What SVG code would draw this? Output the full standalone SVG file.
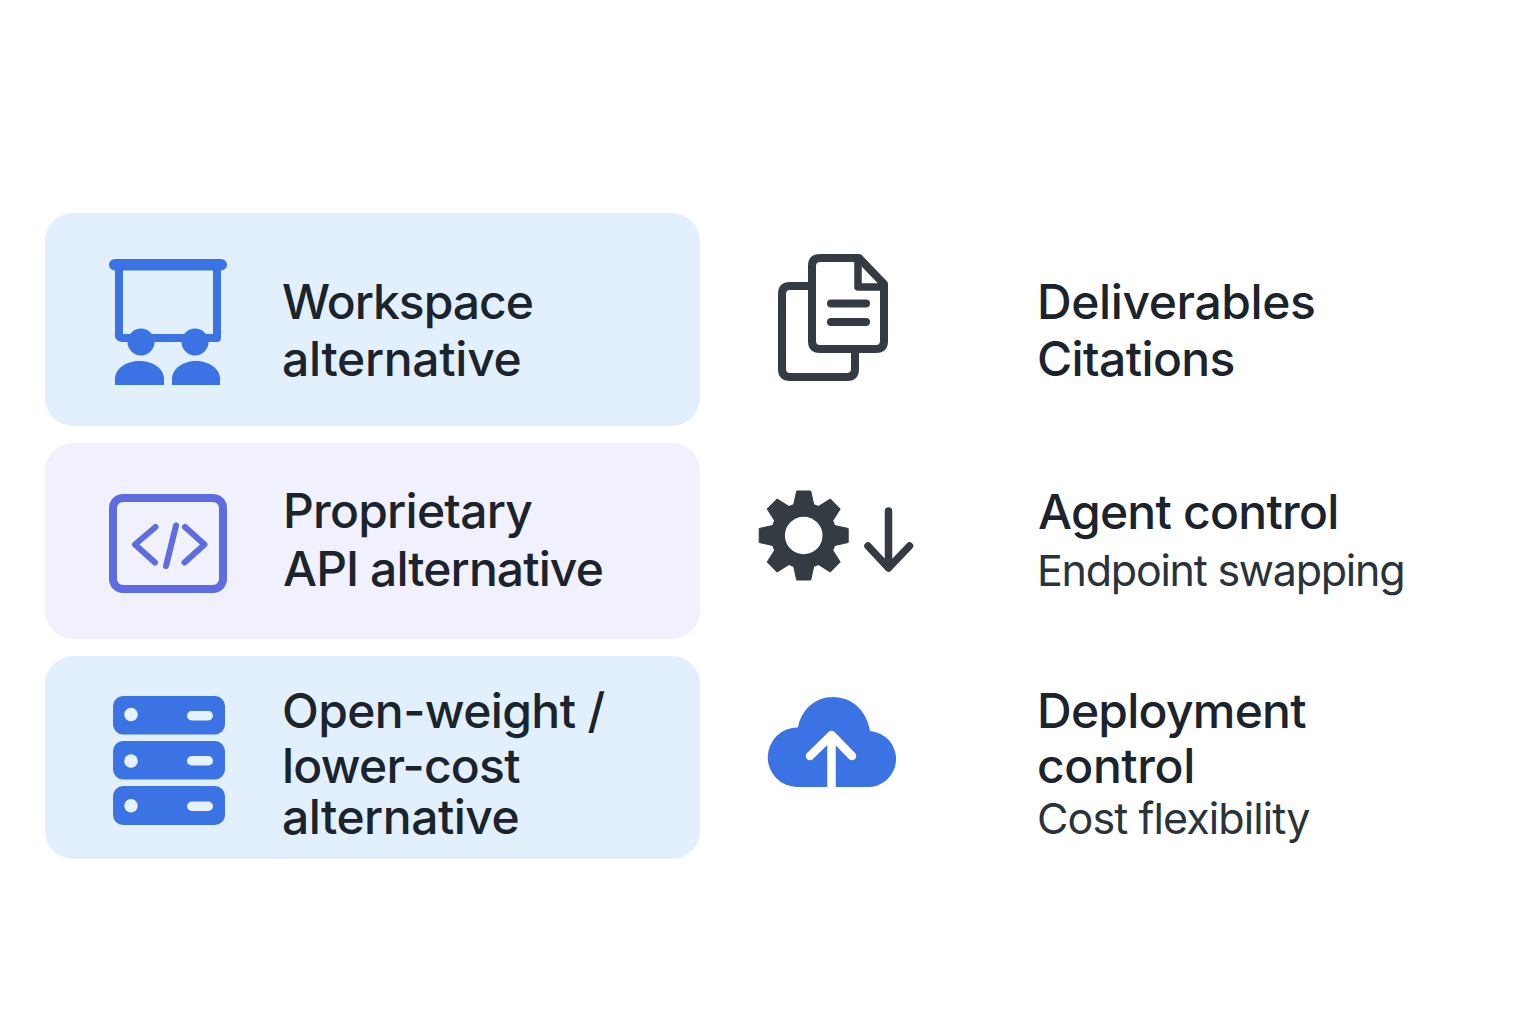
<svg xmlns="http://www.w3.org/2000/svg" width="1536" height="1024" viewBox="0 0 1536 1024">
<style>
.t{font-family:Inter,"Liberation Sans",sans-serif;font-size:48px;font-weight:500;fill:#1b232c;letter-spacing:-.75px}
.s{font-family:Inter,"Liberation Sans",sans-serif;font-size:43px;font-weight:400;fill:#2a333c}
.blue{fill:#3b72e4}
.line{fill:none;stroke-linecap:round;stroke-linejoin:round}
.dk{stroke:#343b43}
</style>
<defs><polygon id="tooth" points="-10,-31 -7,-44.500 7,-44.500 10,-31" fill="#343b43" stroke="#343b43" stroke-width="1" stroke-linejoin="round"/></defs>
<rect width="1536" height="1024" fill="#fff"/>
<g id="card-workspace">
<rect x="45" y="213" width="655" height="213" rx="28" fill="#e2f0fd"/>
<g id="icon-workspace">
<path d="M119 268V334a3 3 0 0 0 3 4H217V268" class="line" stroke="#3b72e4" stroke-width="8"/>
<rect x="109" y="259" width="118" height="11.500" rx="5.700" class="blue"/>
<circle cx="141" cy="342" r="13.500" class="blue"/><circle cx="195" cy="342" r="13.500" class="blue"/>
<path d="M115 385V379C115 368 127 361 139.500 361S164 368 164 379V385Z" class="blue"/>
<path d="M172 385V379C172 368 184 361 196 361S220 368 220 379V385Z" class="blue"/>
</g>
<text class="t" x="282" y="319" style="letter-spacing:-1px">Workspace</text><text class="t" x="282" y="376" style="letter-spacing:-.3px">alternative</text>
</g>
<g id="card-api">
<rect x="45" y="443" width="655" height="196" rx="28" fill="#f1f0fd"/>
<g id="icon-api" class="line" stroke="#5f6ce0">
<rect x="113" y="498" width="110" height="91" rx="10" stroke-width="8"/>
<path d="M155.500 527L135 544.500L155 562.500M185 527L204.500 544.500L184.500 562.500M176 525.500L166 566" stroke-width="6"/>
</g>
<text class="t" x="283" y="528">Proprietary</text><text class="t" x="283" y="586" style="letter-spacing:-.9px">API alternative</text>
</g>
<g id="card-open">
<rect x="45" y="656" width="655" height="203" rx="28" fill="#e2f0fd"/>
<g id="icon-open">
<rect x="113" y="696" width="112" height="38.500" rx="10" class="blue"/>
<rect x="113" y="741" width="112" height="38.500" rx="10" class="blue"/>
<rect x="113" y="786" width="112" height="39" rx="10" class="blue"/>
<g fill="#e6f2fe">
<circle cx="131" cy="714.500" r="6.800"/><circle cx="131" cy="761" r="6.800"/><circle cx="131" cy="805.700" r="6.800"/>
<rect x="187" y="711" width="26" height="9.500" rx="4.700"/><rect x="187" y="756" width="26" height="9.500" rx="4.700"/><rect x="187" y="801.500" width="26" height="9.500" rx="4.700"/>
</g>
</g>
<text class="t" x="282" y="728" style="letter-spacing:-.6px">Open-weight /</text><text class="t" x="282" y="783">lower-cost</text><text class="t" x="282" y="834" style="letter-spacing:-.5px">alternative</text>
</g>
<g id="row-deliverables">
<g id="icon-deliverables" class="line dk">
<path d="M808 286H790Q782 286 782 294V369Q782 377 790 377H847Q855 377 855 369V351" stroke-width="8"/>
<path d="M820 258H859L884 284V341Q884 349 876 349H820Q812 349 812 341V266Q812 258 820 258Z" stroke-width="8"/>
<path d="M858 259V287H883" stroke-width="7.500" stroke-linecap="butt"/>
<path d="M831 303.500H866M831 322H866" stroke-width="8"/>
</g>
<text class="t" x="1037" y="319" style="letter-spacing:-.4px">Deliverables</text><text class="t" x="1037" y="376" style="letter-spacing:-.6px">Citations</text>
</g>
<g id="row-agent">
<g id="icon-agent">
<use href="#tooth" transform="translate(803.700 535.500)"/>
<use href="#tooth" transform="translate(803.700 535.500) rotate(45)"/>
<use href="#tooth" transform="translate(803.700 535.500) rotate(90)"/>
<use href="#tooth" transform="translate(803.700 535.500) rotate(135)"/>
<use href="#tooth" transform="translate(803.700 535.500) rotate(180)"/>
<use href="#tooth" transform="translate(803.700 535.500) rotate(225)"/>
<use href="#tooth" transform="translate(803.700 535.500) rotate(270)"/>
<use href="#tooth" transform="translate(803.700 535.500) rotate(315)"/>
<circle cx="803.700" cy="535.500" r="33" fill="#343b43"/>
<circle cx="803.700" cy="535.500" r="18.800" fill="#fff"/>
<path d="M888.500 511V567M868 546L888.500 568L909.500 546" class="line dk" stroke-width="7.500"/>
</g>
<text class="t" x="1038" y="529">Agent control</text><text class="s" x="1037" y="585.500" style="letter-spacing:-1.25px">Endpoint swapping</text>
</g>
<g id="row-deployment">
<g id="icon-deployment">
<path d="M797 787A29.500 29.500 0 0 1 798 727.500C801 710 815 697 833 697C852 697 867 711 870 731A28 28 0 0 1 866 787Z" class="blue"/>
<path d="M831.500 738V787" fill="none" stroke="#fff" stroke-width="8.500"/>
<path d="M810 756L831.500 735L852 756" class="line" stroke="#fff" stroke-width="8.500"/>
</g>
<text class="t" x="1037" y="728">Deployment</text><text class="t" x="1037" y="783" style="letter-spacing:-.4px">control</text><text class="s" x="1037" y="834" style="letter-spacing:-.9px">Cost flexibility</text>
</g>
</svg>
